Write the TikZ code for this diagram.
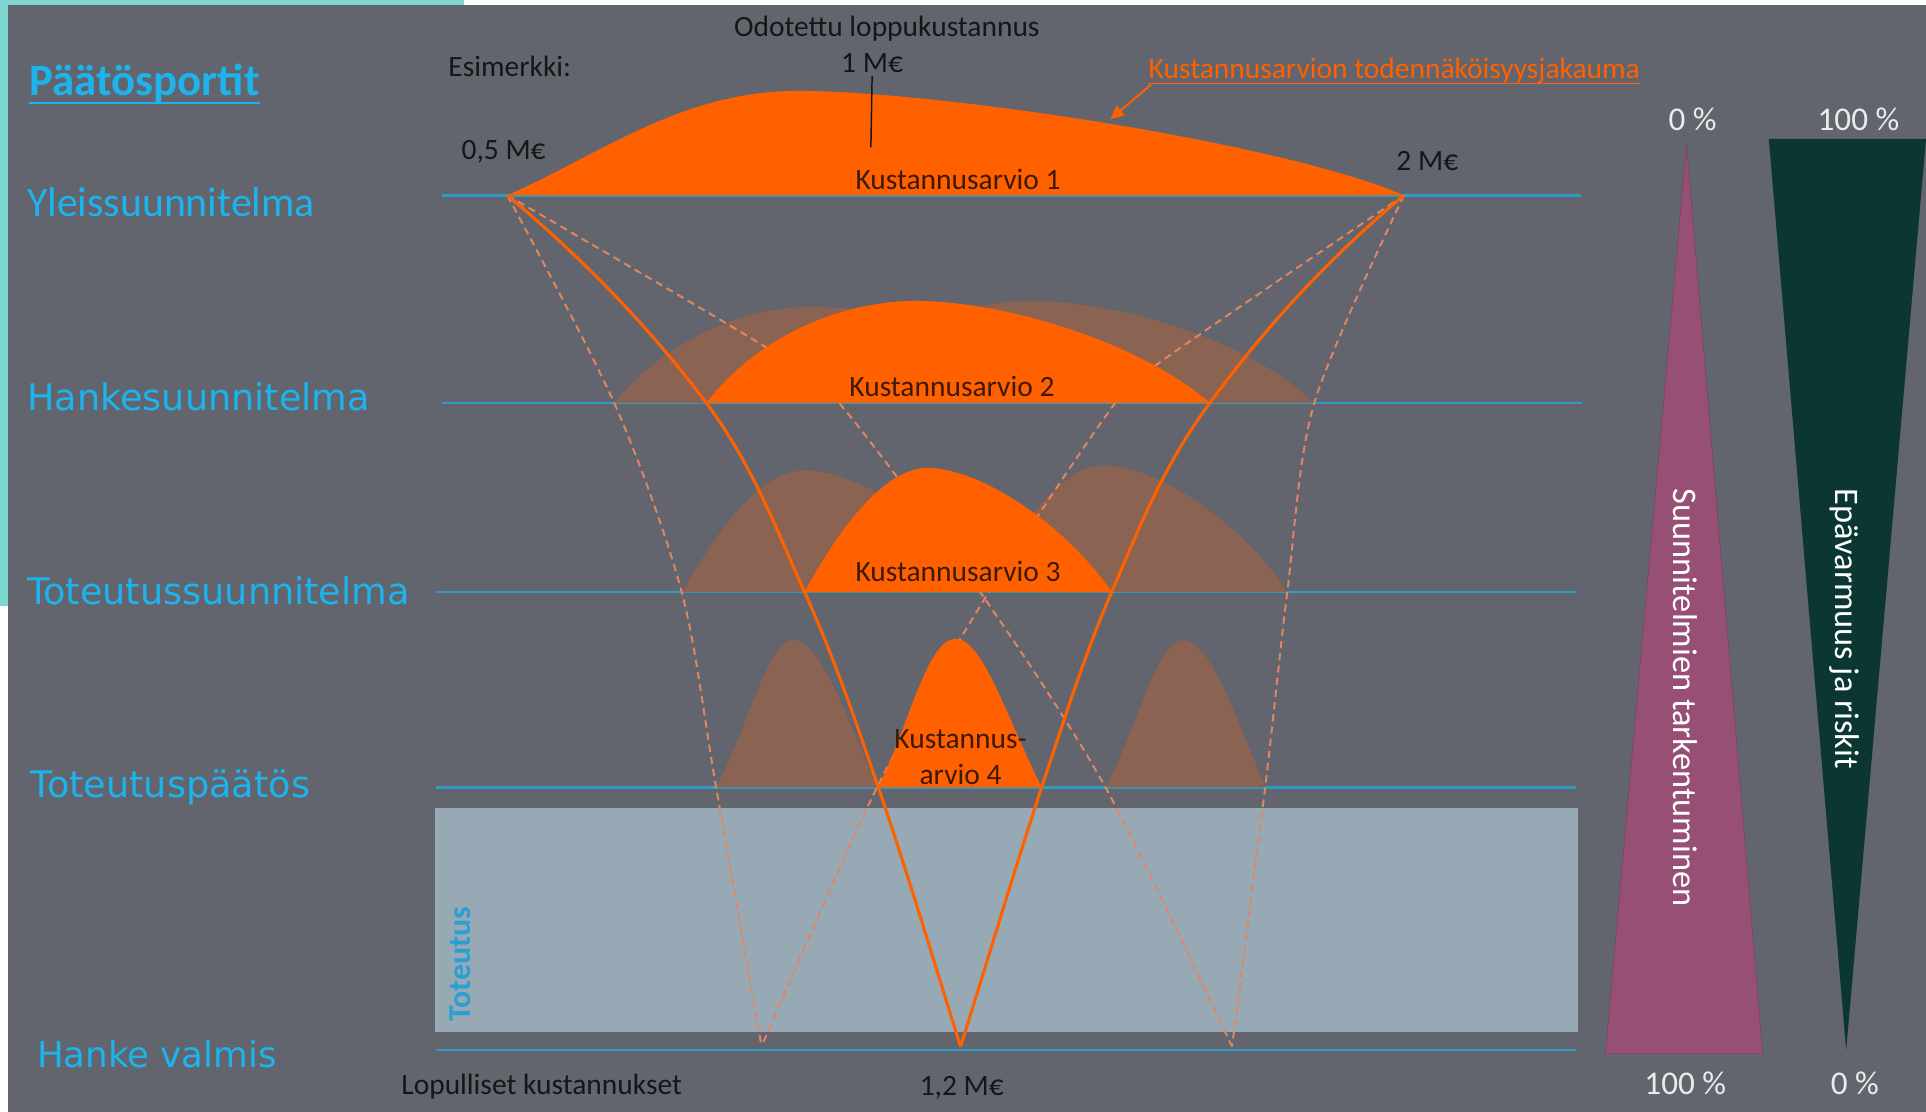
\documentclass[tikz,border=0pt]{standalone}
\usepackage{xcolor}
\usepackage{fontspec}
\setmainfont{Carlito}
\newfontfamily\widefont{DejaVu Sans}
\usepackage{tikz}
\usetikzlibrary{arrows.meta}

\definecolor{bggray}{HTML}{62656D}
\definecolor{edgeteal}{HTML}{7DD6D0}
\definecolor{gateblue}{HTML}{2E9CC4}
\definecolor{phaseblue}{HTML}{1DB3EC}
\definecolor{hot}{HTML}{FF6100}
\definecolor{shade}{HTML}{8A6352}
\definecolor{dashorange}{HTML}{E08660}
\definecolor{bandgray}{HTML}{97A9B4}
\definecolor{mauve}{HTML}{984F76}
\definecolor{darkgreen}{HTML}{0C3631}
\definecolor{inkdark}{HTML}{161616}
\definecolor{inkbrown}{HTML}{3D1A08}
\definecolor{bandblue}{HTML}{2A9FD4}

\begin{document}
\begin{tikzpicture}[x=1pt,y=-1pt,
	gate/.style={gateblue, line width=2pt},
	phase/.style={anchor=base west, inner sep=0, text=phaseblue},
	note/.style={anchor=base, inner sep=0, text=inkdark, font=\fontsize{24}{28}\selectfont},
	estlabel/.style={note, text=inkbrown},
	bump/.style={fill=hot},
	ghost/.style={fill=shade},
	funnel/.style={hot, line width=2.5pt, line join=round},
	scen/.style={dashorange, line width=1.6pt, dash pattern=on 6pt off 4pt},
	pct/.style={anchor=base, inner sep=0, text=white!92!black, font=\fontsize{27}{30}\selectfont},
	side/.style={inner sep=0, text=white, font=\fontsize{28}{32}\selectfont}]
	\useasboundingbox (0,0) rectangle (1568,905);
	\fill[white] (0,0) rectangle (1568,905);
	\fill[edgeteal] (0,0) rectangle (378,4);
	\fill[edgeteal] (0,0) rectangle (6.5,493);
	\fill[bggray] (6.5,4) rectangle (1568,905);
	\fill[bandgray] (354,658) rectangle (1285,840);

	\draw[gate] (360,159) -- (1287,159);
	\draw[gate] (360,328) -- (1288,328);
	\draw[gate] (355,482) -- (1283,482);
	\draw[gate] (355,641) -- (1283,641);
	\draw[gate] (355,855) -- (1283,855);

	\fill[ghost] (500,328) .. controls (540,280) and (600,250) .. (660,250) .. controls (760,250) and (860,290) .. (908,328) -- cycle;
	\fill[ghost] (683,328) .. controls (730,275) and (780,245) .. (835,245) .. controls (920,245) and (1020,280) .. (1070,328) -- cycle;
	\fill[ghost] (555,482) .. controls (580,440) and (615,383) .. (655,383) .. controls (700,383) and (770,430) .. (805,482) -- cycle;
	\fill[ghost] (798,482) .. controls (825,440) and (860,379) .. (898,379) .. controls (945,379) and (1015,430) .. (1048,482) -- cycle;
	\fill[ghost] (583,641) .. controls (610,590) and (625,521) .. (646,521) .. controls (668,521) and (690,585) .. (714,641) -- cycle;
	\fill[ghost] (900,641) .. controls (927,590) and (942,521) .. (963,521) .. controls (985,521) and (1007,585) .. (1030,641) -- cycle;

	\draw[scen] plot[smooth] coordinates {(413,159) (500,328) (555,482) (583,641) (620,852)};
	\draw[scen] plot[smooth] coordinates {(1143,159) (947,293) (908,328) (805,482) (714,641) (620,852)};
	\draw[scen] plot[smooth] coordinates {(1143,159) (1070,328) (1048,482) (1030,641) (1003,852)};
	\draw[scen] plot[smooth] coordinates {(413,159) (624,283) (683,328) (798,482) (900,641) (1003,852)};

	\fill[bump] (413,159) .. controls (490,125) and (555,74) .. (650,74) .. controls (760,74) and (1040,115) .. (1143,159) -- cycle;
	\fill[bump] (575,328) .. controls (620,270) and (690,245) .. (745,245) .. controls (820,245) and (930,280) .. (985,328) -- cycle;
	\fill[bump] (655,482) .. controls (675,445) and (715,381) .. (755,381) .. controls (800,381) and (870,430) .. (905,482) -- cycle;
	\fill[bump] (715,641) .. controls (740,590) and (755,520) .. (778,520) .. controls (800,520) and (820,585) .. (848,641) -- cycle;

	\draw[funnel] (413,159) .. controls (480,215) and (533,272) .. (575,328) .. controls (613,379) and (632,431) .. (655,482) .. controls (679,535) and (697,588) .. (715,641) .. controls (739,711) and (760,782) .. (782,852);
	\draw[funnel] (1143,159) .. controls (1076,215) and (1026,272) .. (985,328) .. controls (947,379) and (927,431) .. (905,482) .. controls (882,535) and (866,588) .. (848,641) .. controls (825,711) and (804,782) .. (782,852);

	\fill[mauve, draw=mauve!80!black] (1373,118) -- (1435,858) -- (1307,858) -- cycle;
	\fill[darkgreen] (1440,113) -- (1568,113) -- (1503,855) -- cycle;

	\node[phase, font=\bfseries\fontsize{36.5}{40}\selectfont] (portit) at (24,77.5) {Päätösportit};
	\draw[phaseblue, line width=1.5pt] ([yshift=-6.5pt]portit.base west) -- ([yshift=-6.5pt]portit.base east);
	\node[phase, font=\fontsize{34}{38}\selectfont] (yleis) at (22,176.5) {Yleissuunnitelma};
	\node[phase, font=\widefont\fontsize{29.8}{34}\selectfont] (hanke) at (22,334) {Hankesuunnitelma};
	\node[phase, font=\widefont\fontsize{29.8}{34}\selectfont] (totsuun) at (22,492) {Toteutussuunnitelma};
	\node[phase, font=\widefont\fontsize{29.8}{34}\selectfont] (paatos) at (25,649) {Toteutuspäätös};
	\node[phase, font=\widefont\fontsize{29}{34}\selectfont] (valmis) at (30,869) {Hanke valmis};

	\node[note] (esim) at (415,62) {Esimerkki:};
	\node[note] (odot) at (722,30) {Odotettu loppukustannus};
	\node[note] (meur) at (710,59) {1 M€};
	\coordinate (modept) at (709,120);
	\draw[inkdark, line width=1.2pt] ([yshift=-3pt]meur.base) -- (modept);
	\node[note] (low) at (410,130) {0,5 M€};
	\node[note] (high) at (1162,139) {2 M€};
	\node[note, anchor=base west, text=hot] (jakauma) at (935,64) {Kustannusarvion todennäköisyysjakauma};
	\draw[hot, line width=1.3pt] ([yshift=-4pt]jakauma.base west) -- ([yshift=-4pt]jakauma.base east);
	\coordinate (arrowtip) at (904,97);
	\draw[hot, line width=1.5pt, -{Triangle[length=11pt,width=10pt]}] ([xshift=2pt,yshift=-5pt]jakauma.base west) -- (arrowtip);

	\node[estlabel] (ka1) at (780,154) {Kustannusarvio 1};
	\node[estlabel] (ka2) at (775,323) {Kustannusarvio 2};
	\node[estlabel] (ka3) at (780,473) {Kustannusarvio 3};
	\node[estlabel] (ka4a) at (782,609) {Kustannus-};
	\node[estlabel] (ka4b) at (782,639) {arvio 4};
	\node[note] (lopul) at (441,891) {Lopulliset kustannukset};
	\node[note] (final) at (783,892) {1,2 M€};

	\node[pct] (tarkfrom) at (1378,106) {0 \%};
	\node[pct] (epavfrom) at (1513,106) {100 \%};
	\node[pct] (tarkto) at (1372,891) {100 \%};
	\node[pct] (epavto) at (1510,891) {0 \%};
	\node[side, rotate=-90] (tark) at (1372,568) {Suunnitelmien tarkentuminen};
	\node[side, rotate=-90] (epav) at (1502,512) {Epävarmuus ja riskit};
	\node[inner sep=0, rotate=90, text=bandblue, font=\bfseries\fontsize{26}{30}\selectfont] (totband) at (375,785) {Toteutus};
\end{tikzpicture}
\end{document}
